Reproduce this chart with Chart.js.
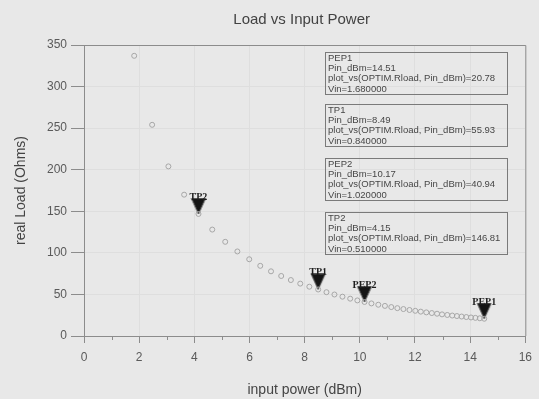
<!DOCTYPE html>
<html>
<head>
<meta charset="utf-8">
<script src="https://cdn.jsdelivr.net/npm/chart.js@4.4.0/dist/chart.umd.min.js"></script>
<style>
  html, body { margin: 0; padding: 0; background: #e8e8e8; }
  canvas { display: block; }
</style>
</head>
<body>
<canvas id="loadChart" width="539" height="399"></canvas>
<script>
// Pin sweep (dBm) and the optimum real load found at each step (Ohms)
var pinDbm = [1.82, 2.47, 3.06, 3.63, 4.15, 4.65, 5.12, 5.56, 5.99, 6.39,
  6.78, 7.15, 7.50, 7.84, 8.17, 8.49, 8.79, 9.08, 9.37, 9.65,
  9.91, 10.17, 10.42, 10.67, 10.91, 11.14, 11.36, 11.58, 11.80, 12.01,
  12.21, 12.41, 12.61, 12.80, 12.98, 13.17, 13.35, 13.52, 13.69, 13.86,
  14.03, 14.19, 14.35, 14.51];
var loadOhms = [337, 254, 204, 170, 146.81, 128, 113.3, 101.7, 92.3, 84.4,
  77.8, 72.2, 67.3, 63.0, 59.3, 55.93, 52.7, 49.9, 47.3, 44.9,
  42.8, 40.94, 39.2, 37.6, 36.2, 34.8, 33.5, 32.4, 31.3, 30.3,
  29.3, 28.4, 27.6, 26.8, 26.0, 25.3, 24.6, 24.0, 23.4, 22.8,
  22.3, 21.8, 21.3, 20.78];

// markers
var markerNames = ['TP2', 'TP1', 'PEP2', 'PEP1'];
var markerPin = [4.15, 8.49, 10.17, 14.51];
var markerLoad = [146.81, 55.93, 40.94, 20.78];
var markerVin = [0.51, 0.84, 1.02, 1.68];
// readout boxes, top to bottom
var readoutOrder = [3, 1, 2, 0];

var xTicks = [0, 2, 4, 6, 8, 10, 12, 14, 16];
var yTicks = [0, 50, 100, 150, 200, 250, 300, 350];

var FONT = '"Liberation Sans", Arial, sans-serif';
var TEXT = '#5a5a5a';
var AXIS = '#8c8c8c';

// down-pointing marker, tip sits at the centre of the image
function makeTriangle() {
  var c = document.createElement('canvas');
  c.width = 16; c.height = 32;
  var g = c.getContext('2d');
  g.fillStyle = '#141414';
  g.strokeStyle = '#555';
  g.lineWidth = 1;
  g.beginPath();
  g.moveTo(1, 0.5);
  g.lineTo(15, 0.5);
  g.lineTo(8, 16);
  g.closePath();
  g.fill();
  g.stroke();
  return c;
}

var curvePoints = pinDbm.map(function (p, i) { return { x: p, y: loadOhms[i] }; });
var markerPoints = markerPin.map(function (p, i) { return { x: p, y: markerLoad[i] }; });

var titlePlugin = {
  id: 'plotTitle',
  afterDraw: function (chart) {
    var ctx = chart.ctx, a = chart.chartArea;
    ctx.save();
    ctx.fillStyle = '#424242';
    ctx.font = '15px ' + FONT;
    ctx.textAlign = 'center';
    ctx.textBaseline = 'middle';
    ctx.fillText('Load vs Input Power', (a.left + a.right) / 2 - 3, 20);
    ctx.restore();
  }
};

var framePlugin = {
  id: 'frame',
  beforeDatasetsDraw: function (chart) {
    var ctx = chart.ctx, a = chart.chartArea, xs = chart.scales.x;
    ctx.save();
    ctx.strokeStyle = AXIS;
    ctx.lineWidth = 1;
    ctx.beginPath();
    ctx.moveTo(a.left, a.top + 0.5);
    ctx.lineTo(a.right + 0.5, a.top + 0.5);
    ctx.lineTo(a.right + 0.5, a.bottom);
    ctx.stroke();
    // minor ticks on the x axis
    ctx.beginPath();
    for (var v = 1; v < 16; v += 2) {
      var px = Math.round(xs.getPixelForValue(v)) + 0.5;
      ctx.moveTo(px, a.bottom);
      ctx.lineTo(px, a.bottom + 4);
    }
    ctx.stroke();
    ctx.restore();
  }
};

var markerLabelPlugin = {
  id: 'markerLabels',
  afterDatasetsDraw: function (chart) {
    var ctx = chart.ctx;
    var meta = chart.getDatasetMeta(1);
    ctx.save();
    ctx.fillStyle = '#1e1e1e';
    ctx.font = 'bold 10px "Liberation Serif", serif';
    ctx.textAlign = 'center';
    ctx.textBaseline = 'alphabetic';
    meta.data.forEach(function (pt, i) {
      ctx.fillText(markerNames[i], pt.x, pt.y - 14);
    });
    ctx.restore();
  }
};

var readoutPlugin = {
  id: 'readouts',
  afterDraw: function (chart) {
    var ctx = chart.ctx;
    var left = 325, height = 42;
    var tops = [52, 104, 158, 212];
    ctx.save();
    ctx.font = '9.5px ' + FONT;
    ctx.textBaseline = 'middle';
    ctx.textAlign = 'left';
    readoutOrder.forEach(function (m, k) {
      var top = tops[k];
      var lines = [
        markerNames[m],
        'Pin_dBm=' + markerPin[m].toFixed(2),
        'plot_vs(OPTIM.Rload, Pin_dBm)=' + markerLoad[m].toFixed(2),
        'Vin=' + markerVin[m].toFixed(6)
      ];
      var w = 0;
      lines.forEach(function (t) { w = Math.max(w, ctx.measureText(t).width); });
      ctx.strokeStyle = '#7a7a7a';
      ctx.lineWidth = 1;
      ctx.strokeRect(left + 0.5, top + 0.5, Math.max(Math.ceil(w) + 8, 182), height);
      ctx.fillStyle = '#464646';
      lines.forEach(function (t, j) {
        ctx.fillText(t, left + 3, top + 6 + j * 10.3);
      });
    });
    ctx.restore();
  }
};

new Chart(document.getElementById('loadChart'), {
  type: 'scatter',
  data: {
    datasets: [
      {
        data: curvePoints,
        pointStyle: 'circle',
        pointRadius: 2.5,
        borderColor: '#a6a6a6',
        backgroundColor: 'rgba(0,0,0,0)',
        borderWidth: 1
      },
      {
        data: markerPoints,
        pointStyle: makeTriangle(),
        pointRadius: 8
      }
    ]
  },
  options: {
    responsive: false,
    animation: false,
    layout: { padding: { top: 45, right: 7, left: 0, bottom: 0 } },
    plugins: { legend: { display: false }, tooltip: { enabled: false } },
    scales: {
      x: {
        type: 'linear',
        min: 0, max: 16,
        afterBuildTicks: function (s) { s.ticks = xTicks.map(function (v) { return { value: v }; }); },
        afterFit: function (s) { s.height = 63; },
        ticks: { color: TEXT, font: { size: 12, family: FONT }, padding: 7, maxRotation: 0 },
        grid: { color: '#dedede', tickColor: AXIS, tickLength: 7 },
        border: { color: AXIS },
        title: { display: true, text: 'input power (dBm)', color: '#444', font: { size: 14, family: FONT }, padding: { top: 0, bottom: 0 } }
      },
      y: {
        min: 0, max: 350,
        afterBuildTicks: function (s) { s.ticks = yTicks.map(function (v) { return { value: v }; }); },
        afterFit: function (s) { s.width = 84; },
        ticks: { color: TEXT, font: { size: 12, family: FONT }, padding: 4 },
        grid: { color: '#dedede', tickColor: AXIS, tickLength: 13 },
        border: { color: AXIS },
        title: { display: true, text: 'real Load (Ohms)', color: '#444', font: { size: 14, family: FONT }, padding: { top: 13, bottom: 0 } }
      }
    }
  },
  plugins: [framePlugin, markerLabelPlugin, readoutPlugin, titlePlugin]
});
</script>
</body>
</html>
